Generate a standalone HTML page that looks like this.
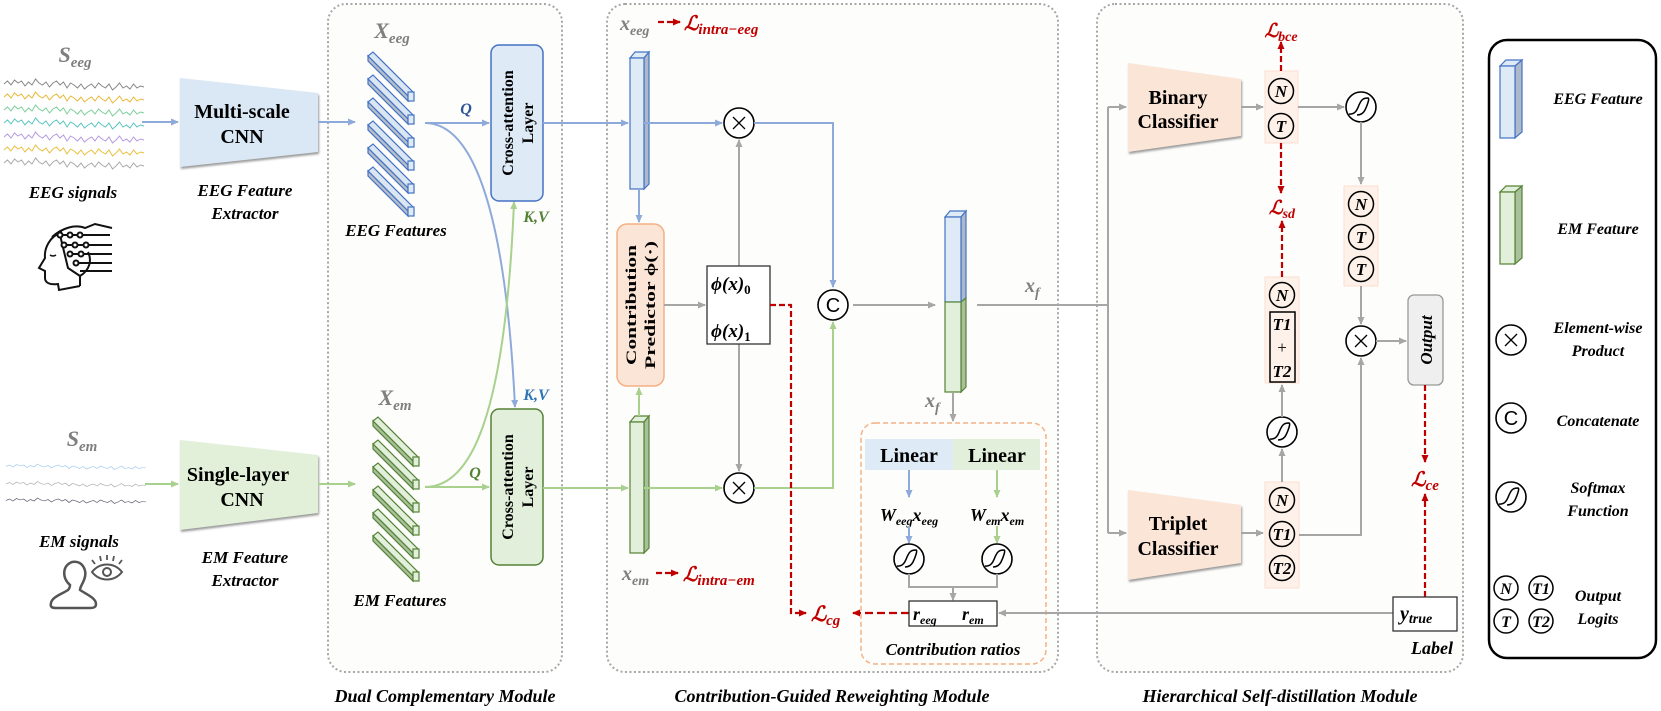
<!DOCTYPE html>
<html><head><meta charset="utf-8"><style>
html,body{margin:0;padding:0;background:#fff;}
svg{display:block;}
text{font-family:"Liberation Serif","DejaVu Serif",serif;}
.b{font-weight:bold;}
.bi{font-weight:bold;font-style:italic;}
.m{font-weight:bold;font-style:italic;fill:#7f7f7f;}
.r{font-weight:bold;font-style:italic;fill:#c00000;}
</style></head><body>
<svg width="1661" height="711" viewBox="0 0 1661 711" xmlns="http://www.w3.org/2000/svg">
<defs>
<marker id="ab" markerWidth="8" markerHeight="8" refX="7" refY="4" orient="auto" markerUnits="userSpaceOnUse"><path d="M0,0.5 L8,4 L0,7.5z" fill="#8eaadb"/></marker>
<marker id="ag" markerWidth="8" markerHeight="8" refX="7" refY="4" orient="auto" markerUnits="userSpaceOnUse"><path d="M0,0.5 L8,4 L0,7.5z" fill="#a9d18e"/></marker>
<marker id="ay" markerWidth="8" markerHeight="8" refX="7" refY="4" orient="auto" markerUnits="userSpaceOnUse"><path d="M0,0.5 L8,4 L0,7.5z" fill="#a6a6a6"/></marker>
<marker id="ar" markerWidth="8" markerHeight="8" refX="7" refY="4" orient="auto" markerUnits="userSpaceOnUse"><path d="M0,0.5 L8,4 L0,7.5z" fill="#c00000"/></marker>
<path id="wave" fill="none" stroke-width="1" d="M0,0 l3.5,-3 l3.5,4 l3.5,-5 l3.5,3 l3.5,-2 l3.5,5 l3.5,-4 l3.5,3 l3.5,-6 l3.5,4 l3.5,2 l3.5,-3 l3.5,5 l3.5,-4 l3.5,-2 l3.5,4 l3.5,-3 l3.5,6 l3.5,-5 l3.5,2 l3.5,3 l3.5,-4 l3.5,5 l3.5,-3 l3.5,-2 l3.5,4 l3.5,-5 l3.5,3 l3.5,2 l3.5,-4 l3.5,6 l3.5,-3 l3.5,-4 l3.5,5 l3.5,-2 l3.5,3 l3.5,-5 l3.5,4 l3.5,-2 l3.5,1"/>
<g id="bbar"><path d="M0,0 l5,-4 l40,40 l-5,4z" fill="#dbe6f3" stroke="#4472c4" stroke-width="1.2"/><path d="M0,0 l40,40 l0,5 l-40,-40z" fill="#b7bfc9" stroke="#4472c4" stroke-width="1.2"/><rect x="40" y="36" width="6" height="9" fill="#deebf7" stroke="#4472c4" stroke-width="1.2"/></g>
<g id="gbar"><path d="M0,0 l5,-4 l40,40 l-5,4z" fill="#e2efda" stroke="#548235" stroke-width="1.2"/><path d="M0,0 l40,40 l0,5 l-40,-40z" fill="#a9c19a" stroke="#548235" stroke-width="1.2"/><rect x="40" y="36" width="6" height="9" fill="#e2efda" stroke="#548235" stroke-width="1.2"/></g>
<g id="mul"><circle r="15" fill="#fff" stroke="#000" stroke-width="1.6"/><path d="M-6,-6 L6,6 M6,-6 L-6,6" stroke="#000" stroke-width="1.3"/></g>
<g id="cat"><circle r="15" fill="#fff" stroke="#000" stroke-width="1.6"/><text x="0" y="7" text-anchor="middle" font-size="20" style="font-family:'Liberation Sans',sans-serif">C</text></g>
<g id="sm"><circle r="15" fill="#fff" stroke="#000" stroke-width="1.6"/><path d="M-12,7 C-4,8 -3,-1 -1,-4 C1,-8 3,-9 7,-9 C9,-9 6,-1 4,3 C2,7 -1,8 -4,8" fill="none" stroke="#000" stroke-width="1.5"/></g>
</defs>

<!-- module boxes -->
<rect x="328" y="4" width="234" height="668" rx="18" fill="#fdfdfc" stroke="#a6a6a6" stroke-width="2" stroke-dasharray="2,2.5"/>
<rect x="607" y="4" width="451" height="668" rx="18" fill="#fdfdfc" stroke="#a6a6a6" stroke-width="2" stroke-dasharray="2,2.5"/>
<rect x="1097" y="4" width="366" height="668" rx="18" fill="#fdfdfc" stroke="#a6a6a6" stroke-width="2" stroke-dasharray="2,2.5"/>
<rect x="1489" y="40" width="167" height="618" rx="18" fill="#fff" stroke="#000" stroke-width="2.5"/>

<text x="445" y="702" text-anchor="middle" font-size="18" class="bi">Dual Complementary Module</text>
<text x="832" y="702" text-anchor="middle" font-size="18" class="bi">Contribution-Guided Reweighting Module</text>
<text x="1280" y="702" text-anchor="middle" font-size="18" class="bi">Hierarchical Self-distillation Module</text>

<!-- ===== left: EEG ===== -->
<text x="75" y="62" text-anchor="middle" font-size="22" class="m">S<tspan font-size="15" dy="5">eeg</tspan></text>
<use href="#wave" x="4" y="84" stroke="#888"/>
<use href="#wave" x="4" y="97" stroke="#e8b838"/>
<use href="#wave" x="4" y="110" stroke="#7ccf9a"/>
<use href="#wave" x="4" y="123" stroke="#5bc4c0"/>
<use href="#wave" x="4" y="137" stroke="#b59be0"/>
<use href="#wave" x="4" y="150" stroke="#e8c040"/>
<use href="#wave" x="4" y="163" stroke="#aaa"/>
<line x1="142" y1="122" x2="178" y2="122" stroke="#8eaadb" stroke-width="2" marker-end="url(#ab)"/>
<polygon points="180,78 318,93 318,152 180,167" fill="#dae8f5" style="filter:drop-shadow(1px 2px 1px #999)"/>
<text x="242" y="118" text-anchor="middle" font-size="20" class="b">Multi-scale</text>
<text x="242" y="143" text-anchor="middle" font-size="20" class="b">CNN</text>
<text x="245" y="196" text-anchor="middle" font-size="17" class="bi">EEG Feature</text>
<text x="245" y="219" text-anchor="middle" font-size="17" class="bi">Extractor</text>
<text x="73" y="198" text-anchor="middle" font-size="17" class="bi">EEG signals</text>
<!-- head icon -->
<g fill="none" stroke="#111" stroke-width="2">
<path d="M62,232 C50,236 44,248 45,258 L39,268 L45,271 L45,278 C45,283 50,285 58,284 L59,290 L80,286 M80,286 L80,276 C90,270 92,260 88,252"/>
<path d="M52,237 C62,228 75,224 85,228 L95,224 L112,228"/>
<path d="M60,235 L68,268 L80,276" />
<path d="M60,235 L110,235 M64,245 L112,245 M70,254 L112,254 M74,263 L112,263 M80,271 L112,271"/>
<circle cx="60" cy="235" r="2.5" fill="#fff"/><circle cx="70" cy="235" r="2.5" fill="#fff"/><circle cx="80" cy="235" r="2.5" fill="#fff"/>
<circle cx="64" cy="245" r="2.5" fill="#fff"/><circle cx="75" cy="245" r="2.5" fill="#fff"/><circle cx="86" cy="245" r="2.5" fill="#fff"/>
<circle cx="70" cy="254" r="2.5" fill="#fff"/><circle cx="81" cy="254" r="2.5" fill="#fff"/>
<circle cx="76" cy="263" r="2.5" fill="#fff"/>
<path d="M50,255 Q53,257 56,255" stroke-width="1.5"/>
</g>

<!-- ===== left: EM ===== -->
<text x="82" y="446" text-anchor="middle" font-size="22" class="m">S<tspan font-size="15" dy="5">em</tspan></text>
<use href="#wave" x="6" y="467" stroke="#9dc8f0" transform="translate(0,233) scale(1,0.5)"/>
<use href="#wave" x="6" y="484" stroke="#aaa" transform="translate(0,242) scale(1,0.5)"/>
<use href="#wave" x="6" y="501" stroke="#556" transform="translate(0,250) scale(1,0.5)"/>
<line x1="145" y1="484" x2="178" y2="484" stroke="#a9d18e" stroke-width="2" marker-end="url(#ag)"/>
<polygon points="180,440 318,455 318,513 180,530" fill="#e2f0d9" style="filter:drop-shadow(1px 2px 1px #999)"/>
<text x="238" y="481" text-anchor="middle" font-size="20" class="b">Single-layer</text>
<text x="242" y="506" text-anchor="middle" font-size="20" class="b">CNN</text>
<text x="245" y="563" text-anchor="middle" font-size="17" class="bi">EM Feature</text>
<text x="245" y="586" text-anchor="middle" font-size="17" class="bi">Extractor</text>
<text x="79" y="547" text-anchor="middle" font-size="17" class="bi">EM signals</text>
<g fill="none" stroke="#555" stroke-width="2.5">
<path d="M70,585 C62,578 62,566 72,562 C82,560 88,570 84,580 C82,585 80,587 80,590 C86,594 96,598 96,604 C96,607 94,608 90,608 L56,608 C52,608 50,607 51,603 C52,597 62,594 68,590 C70,588 70,586 70,585z"/>
<path d="M92,572 C100,562 114,562 122,572 C114,582 100,582 92,572z" stroke-width="2"/>
<circle cx="107" cy="572" r="4" stroke-width="2"/>
<path d="M95,564 l-3,-4 M101,561 l-1,-5 M107,560 l0,-5 M113,561 l1,-5 M119,564 l3,-4" stroke-width="1.8"/>
</g>

<!-- ===== Dual complementary ===== -->
<text x="392" y="38" text-anchor="middle" font-size="22" class="m">X<tspan font-size="15" dy="5">eeg</tspan></text>
<use href="#bbar" x="368" y="56"/><use href="#bbar" x="368" y="79"/><use href="#bbar" x="368" y="102"/>
<use href="#bbar" x="368" y="125"/><use href="#bbar" x="368" y="148"/><use href="#bbar" x="368" y="171"/>
<text x="396" y="236" text-anchor="middle" font-size="17" class="bi">EEG Features</text>
<line x1="318" y1="122" x2="355" y2="122" stroke="#8eaadb" stroke-width="2" marker-end="url(#ab)"/>

<text x="395" y="405" text-anchor="middle" font-size="22" class="m">X<tspan font-size="15" dy="5">em</tspan></text>
<use href="#gbar" x="373" y="421"/><use href="#gbar" x="373" y="444"/><use href="#gbar" x="373" y="467"/>
<use href="#gbar" x="373" y="490"/><use href="#gbar" x="373" y="513"/><use href="#gbar" x="373" y="536"/>
<text x="400" y="606" text-anchor="middle" font-size="17" class="bi">EM Features</text>
<line x1="318" y1="484" x2="355" y2="484" stroke="#a9d18e" stroke-width="2" marker-end="url(#ag)"/>

<!-- Q arrows and curves -->
<line x1="425" y1="123" x2="489" y2="123" stroke="#8eaadb" stroke-width="2" marker-end="url(#ab)"/>
<text x="466" y="114" text-anchor="middle" font-size="16" class="bi" fill="#2f5597">Q</text>
<path d="M425,123 C470,123 505,200 515,407" fill="none" stroke="#8eaadb" stroke-width="2" marker-end="url(#ab)"/>
<line x1="425" y1="487" x2="489" y2="487" stroke="#a9d18e" stroke-width="2" marker-end="url(#ag)"/>
<text x="475" y="478" text-anchor="middle" font-size="16" class="bi" fill="#548235">Q</text>
<path d="M425,487 C470,487 505,420 514,202" fill="none" stroke="#a9d18e" stroke-width="2" marker-end="url(#ag)"/>
<text x="536" y="222" text-anchor="middle" font-size="16" class="bi" fill="#548235">K,V</text>
<text x="536" y="400" text-anchor="middle" font-size="16" class="bi" fill="#2e75b6">K,V</text>

<rect x="491" y="45" width="52" height="156" rx="8" fill="#deebf7" stroke="#4472c4" stroke-width="1.5"/>
<g transform="translate(517,123) rotate(-90)"><text x="0" y="-4" text-anchor="middle" font-size="16" class="b">Cross-attention</text><text x="0" y="16" text-anchor="middle" font-size="16" class="b">Layer</text></g>
<rect x="491" y="409" width="52" height="156" rx="8" fill="#e2efda" stroke="#548235" stroke-width="1.5"/>
<g transform="translate(517,487) rotate(-90)"><text x="0" y="-4" text-anchor="middle" font-size="16" class="b">Cross-attention</text><text x="0" y="16" text-anchor="middle" font-size="16" class="b">Layer</text></g>

<!-- ===== Contribution-guided ===== -->
<text x="620" y="30" font-size="20" class="m">x<tspan font-size="14" dy="5">eeg</tspan></text>
<line x1="658" y1="22" x2="680" y2="22" stroke="#c00000" stroke-width="2.2" stroke-dasharray="6,3" marker-end="url(#ar)"/>
<text x="684" y="30" font-size="20" class="r">ℒ<tspan font-size="15" dy="4">intra−eeg</tspan></text>

<line x1="543" y1="123" x2="628" y2="123" stroke="#8eaadb" stroke-width="2" marker-end="url(#ab)"/>
<line x1="543" y1="488" x2="628" y2="488" stroke="#a9d18e" stroke-width="2" marker-end="url(#ag)"/>
<!-- EEG bar -->
<polygon points="630,58 635,52 649,52 644,58" fill="#deebf7" stroke="#4472c4" stroke-width="1.2"/>
<polygon points="644,58 649,52 649,184 644,189" fill="#adb9ca" stroke="#4472c4" stroke-width="1.2"/>
<rect x="630" y="58" width="14" height="131" fill="#deebf7" stroke="#4472c4" stroke-width="1.2"/>
<!-- EM bar -->
<polygon points="630,422 635,416 649,416 644,422" fill="#e2efda" stroke="#548235" stroke-width="1.2"/>
<polygon points="644,422 649,416 649,548 644,553" fill="#a9c19a" stroke="#548235" stroke-width="1.2"/>
<rect x="630" y="422" width="14" height="131" fill="#e2efda" stroke="#548235" stroke-width="1.2"/>
<text x="622" y="580" font-size="20" class="m">x<tspan font-size="14" dy="5">em</tspan></text>
<line x1="656" y1="573" x2="678" y2="573" stroke="#c00000" stroke-width="2.2" stroke-dasharray="6,3" marker-end="url(#ar)"/>
<text x="683" y="581" font-size="20" class="r">ℒ<tspan font-size="15" dy="4">intra−em</tspan></text>

<line x1="639" y1="189" x2="639" y2="222" stroke="#8eaadb" stroke-width="2" marker-end="url(#ab)"/>
<line x1="639" y1="416" x2="639" y2="388" stroke="#a9d18e" stroke-width="2" marker-end="url(#ag)"/>
<rect x="617" y="224" width="47" height="162" rx="10" fill="#fbe5d6" stroke="#f4b183" stroke-width="1.5"/>
<g transform="translate(640,305) rotate(-90)"><text x="0" y="-4" text-anchor="middle" font-size="15" class="b" textLength="120" lengthAdjust="spacingAndGlyphs">Contribution</text><text x="0" y="15" text-anchor="middle" font-size="15" class="b" textLength="128" lengthAdjust="spacingAndGlyphs">Predictor ϕ(·)</text></g>

<line x1="644" y1="123" x2="722" y2="123" stroke="#8eaadb" stroke-width="2" marker-end="url(#ab)"/>
<line x1="644" y1="488" x2="722" y2="488" stroke="#a9d18e" stroke-width="2" marker-end="url(#ag)"/>
<line x1="664" y1="305" x2="705" y2="305" stroke="#a6a6a6" stroke-width="2" marker-end="url(#ay)"/>
<line x1="739" y1="266" x2="739" y2="140" stroke="#a6a6a6" stroke-width="2" marker-end="url(#ay)"/>
<line x1="739" y1="344" x2="739" y2="471" stroke="#a6a6a6" stroke-width="2" marker-end="url(#ay)"/>
<rect x="707" y="266" width="63" height="78" fill="#fff" stroke="#333" stroke-width="1.3"/>
<text x="711" y="290" font-size="19" class="bi">ϕ(x)<tspan font-size="13" dy="4" font-style="normal">0</tspan></text>
<text x="711" y="337" font-size="19" class="bi">ϕ(x)<tspan font-size="13" dy="4" font-style="normal">1</tspan></text>
<use href="#mul" x="739" y="123"/>
<use href="#mul" x="739" y="488"/>
<polyline points="754,123 833,123 833,287" fill="none" stroke="#8eaadb" stroke-width="2" marker-end="url(#ab)"/>
<polyline points="754,488 833,488 833,322" fill="none" stroke="#a9d18e" stroke-width="2" marker-end="url(#ag)"/>
<use href="#cat" x="833" y="305"/>
<line x1="853" y1="305" x2="935" y2="305" stroke="#a6a6a6" stroke-width="2" marker-end="url(#ay)"/>
<polyline points="770,305 791,305 791,613 806,613" fill="none" stroke="#c00000" stroke-width="2.2" stroke-dasharray="6,3" marker-end="url(#ar)"/>
<text x="811" y="621" font-size="21" class="r">ℒ<tspan font-size="15" dy="4">cg</tspan></text>

<!-- fused bar -->
<polygon points="945,217 950,211 966,211 961,217" fill="#deebf7" stroke="#4472c4" stroke-width="1.2"/>
<polygon points="961,217 966,211 966,298 961,302" fill="#adb9ca" stroke="#4472c4" stroke-width="1.2"/>
<polygon points="961,302 966,298 966,387 961,392" fill="#a9c19a" stroke="#548235" stroke-width="1.2"/>
<rect x="945" y="217" width="16" height="85" fill="#deebf7" stroke="#4472c4" stroke-width="1.2"/>
<rect x="945" y="302" width="16" height="90" fill="#e2efda" stroke="#548235" stroke-width="1.2"/>
<text x="1025" y="292" font-size="20" class="m">x<tspan font-size="14" dy="5">f</tspan></text>
<text x="925" y="407" font-size="20" class="m">x<tspan font-size="14" dy="5">f</tspan></text>
<line x1="953" y1="392" x2="953" y2="421" stroke="#a6a6a6" stroke-width="2" marker-end="url(#ay)"/>

<!-- contribution ratios box -->
<rect x="861" y="423" width="185" height="241" rx="14" fill="none" stroke="#f4b183" stroke-width="1.5" stroke-dasharray="5,3"/>
<rect x="865" y="439" width="88" height="31" fill="#deebf7"/>
<rect x="953" y="439" width="87" height="31" fill="#e2efda"/>
<text x="909" y="462" text-anchor="middle" font-size="20" class="b">Linear</text>
<text x="997" y="462" text-anchor="middle" font-size="20" class="b">Linear</text>
<line x1="909" y1="470" x2="909" y2="497" stroke="#8eaadb" stroke-width="2" marker-end="url(#ab)"/>
<line x1="997" y1="470" x2="997" y2="497" stroke="#a9d18e" stroke-width="2" marker-end="url(#ag)"/>
<text x="909" y="521" text-anchor="middle" font-size="18" class="bi">W<tspan font-size="12" dy="4">eeg</tspan><tspan dy="-4">x</tspan><tspan font-size="12" dy="4">eeg</tspan></text>
<text x="997" y="521" text-anchor="middle" font-size="18" class="bi">W<tspan font-size="12" dy="4">em</tspan><tspan dy="-4">x</tspan><tspan font-size="12" dy="4">em</tspan></text>
<line x1="909" y1="526" x2="909" y2="543" stroke="#8eaadb" stroke-width="2" marker-end="url(#ab)"/>
<line x1="997" y1="526" x2="997" y2="543" stroke="#a9d18e" stroke-width="2" marker-end="url(#ag)"/>
<use href="#sm" x="909" y="559"/>
<use href="#sm" x="997" y="559"/>
<polyline points="909,574 909,587 997,587 997,574" fill="none" stroke="#a6a6a6" stroke-width="2"/>
<line x1="953" y1="587" x2="953" y2="600" stroke="#a6a6a6" stroke-width="2" marker-end="url(#ay)"/>
<line x1="1393" y1="613" x2="999" y2="613" stroke="#a6a6a6" stroke-width="2" marker-end="url(#ay)"/>
<line x1="909" y1="613" x2="853" y2="613" stroke="#c00000" stroke-width="2.2" stroke-dasharray="8,4" marker-end="url(#ar)"/>
<rect x="909" y="601" width="88" height="25" fill="#fff" stroke="#222" stroke-width="1.2"/>
<text x="913" y="620" font-size="18" class="bi">r<tspan font-size="12" dy="4">eeg</tspan></text>
<text x="962" y="620" font-size="18" class="bi">r<tspan font-size="12" dy="4">em</tspan></text>
<text x="953" y="655" text-anchor="middle" font-size="17" class="bi">Contribution ratios</text>

<!-- ===== Hierarchical ===== -->
<line x1="977" y1="305" x2="1108" y2="305" stroke="#a6a6a6" stroke-width="2"/>
<line x1="1108" y1="107" x2="1108" y2="533" stroke="#a6a6a6" stroke-width="2"/>
<line x1="1108" y1="107" x2="1126" y2="107" stroke="#a6a6a6" stroke-width="2" marker-end="url(#ay)"/>
<line x1="1108" y1="533" x2="1126" y2="533" stroke="#a6a6a6" stroke-width="2" marker-end="url(#ay)"/>
<polygon points="1128,63 1241,79 1241,136 1128,152" fill="#fbe5d6" style="filter:drop-shadow(1px 2px 1px #999)"/>
<text x="1178" y="104" text-anchor="middle" font-size="20" class="b">Binary</text>
<text x="1178" y="128" text-anchor="middle" font-size="20" class="b">Classifier</text>
<polygon points="1128,490 1241,505 1241,563 1128,580" fill="#fbe5d6" style="filter:drop-shadow(1px 2px 1px #999)"/>
<text x="1178" y="530" text-anchor="middle" font-size="20" class="b">Triplet</text>
<text x="1178" y="555" text-anchor="middle" font-size="20" class="b">Classifier</text>
<line x1="1241" y1="107" x2="1263" y2="107" stroke="#a6a6a6" stroke-width="2" marker-end="url(#ay)"/>
<line x1="1241" y1="533" x2="1263" y2="533" stroke="#a6a6a6" stroke-width="2" marker-end="url(#ay)"/>

<g font-size="17" class="bi" text-anchor="middle">
<rect x="1265" y="71" width="33" height="72" fill="#fdf1ea" stroke="#fbe0d0"/>
<circle cx="1281" cy="91" r="12.5" fill="none" stroke="#000" stroke-width="1.5"/><text x="1281" y="97">N</text>
<circle cx="1281" cy="126" r="12.5" fill="none" stroke="#000" stroke-width="1.5"/><text x="1281" y="132">T</text>

<rect x="1265" y="277" width="34" height="106" fill="#fdf1ea" stroke="#fbe0d0"/>
<circle cx="1282" cy="295" r="12.5" fill="none" stroke="#000" stroke-width="1.5"/><text x="1282" y="301">N</text>
<rect x="1270" y="312" width="25" height="70" fill="none" stroke="#000" stroke-width="1.5"/>
<text x="1282" y="330">T1</text><text x="1282" y="353" font-style="normal" font-weight="normal">+</text><text x="1282" y="377">T2</text>

<rect x="1265" y="482" width="34" height="106" fill="#fdf1ea" stroke="#fbe0d0"/>
<circle cx="1282" cy="500" r="12.5" fill="none" stroke="#000" stroke-width="1.5"/><text x="1282" y="506">N</text>
<circle cx="1282" cy="534" r="12.5" fill="none" stroke="#000" stroke-width="1.5"/><text x="1282" y="540">T1</text>
<circle cx="1282" cy="568" r="12.5" fill="none" stroke="#000" stroke-width="1.5"/><text x="1282" y="574">T2</text>

<rect x="1344" y="186" width="34" height="100" fill="#fdf1ea" stroke="#fbe0d0"/>
<circle cx="1361" cy="204" r="12.5" fill="none" stroke="#000" stroke-width="1.5"/><text x="1361" y="210">N</text>
<circle cx="1361" cy="237" r="12.5" fill="none" stroke="#000" stroke-width="1.5"/><text x="1361" y="243">T</text>
<circle cx="1361" cy="269" r="12.5" fill="none" stroke="#000" stroke-width="1.5"/><text x="1361" y="275">T</text>
</g>

<line x1="1281" y1="71" x2="1281" y2="42" stroke="#c00000" stroke-width="2.2" stroke-dasharray="6,3" marker-end="url(#ar)"/>
<text x="1281" y="37" text-anchor="middle" font-size="19" class="r">ℒ<tspan font-size="14" dy="4">bce</tspan></text>
<line x1="1281" y1="143" x2="1281" y2="193" stroke="#c00000" stroke-width="2.2" stroke-dasharray="6,3" marker-end="url(#ar)"/>
<text x="1282" y="214" text-anchor="middle" font-size="19" class="r">ℒ<tspan font-size="14" dy="4">sd</tspan></text>
<line x1="1282" y1="277" x2="1282" y2="221" stroke="#c00000" stroke-width="2.2" stroke-dasharray="6,3" marker-end="url(#ar)"/>

<line x1="1298" y1="107" x2="1344" y2="107" stroke="#a6a6a6" stroke-width="2" marker-end="url(#ay)"/>
<use href="#sm" x="1361" y="107"/>
<line x1="1361" y1="122" x2="1361" y2="184" stroke="#a6a6a6" stroke-width="2" marker-end="url(#ay)"/>
<line x1="1361" y1="286" x2="1361" y2="324" stroke="#a6a6a6" stroke-width="2" marker-end="url(#ay)"/>
<use href="#mul" x="1361" y="341"/>
<polyline points="1299,535 1361,535 1361,358" fill="none" stroke="#a6a6a6" stroke-width="2" marker-end="url(#ay)"/>
<line x1="1282" y1="482" x2="1282" y2="449" stroke="#a6a6a6" stroke-width="2" marker-end="url(#ay)"/>
<use href="#sm" x="1282" y="432"/>
<line x1="1282" y1="417" x2="1282" y2="385" stroke="#a6a6a6" stroke-width="2" marker-end="url(#ay)"/>
<line x1="1376" y1="341" x2="1406" y2="341" stroke="#a6a6a6" stroke-width="2" marker-end="url(#ay)"/>
<rect x="1408" y="295" width="35" height="90" rx="6" fill="#efefef" stroke="#999" stroke-width="1.3"/>
<g transform="translate(1426,340) rotate(-90)"><text x="0" y="6" text-anchor="middle" font-size="17" class="bi">Output</text></g>
<line x1="1425" y1="385" x2="1425" y2="462" stroke="#c00000" stroke-width="2.2" stroke-dasharray="6,3" marker-end="url(#ar)"/>
<text x="1425" y="486" text-anchor="middle" font-size="20" class="r">ℒ<tspan font-size="15" dy="4">ce</tspan></text>
<line x1="1425" y1="597" x2="1425" y2="494" stroke="#c00000" stroke-width="2.2" stroke-dasharray="6,3" marker-end="url(#ar)"/>
<rect x="1393" y="597" width="64" height="34" fill="#fff" stroke="#333" stroke-width="1.3"/>
<text x="1400" y="620" font-size="20" class="bi">y<tspan font-size="14" dy="3">true</tspan></text>
<text x="1432" y="654" text-anchor="middle" font-size="18" class="bi">Label</text>

<!-- ===== legend ===== -->
<polygon points="1500,66 1506,60 1522,60 1515,66" fill="#deebf7" stroke="#4472c4" stroke-width="1.2"/>
<polygon points="1515,66 1522,60 1522,132 1515,138" fill="#adb9ca" stroke="#4472c4" stroke-width="1.2"/>
<rect x="1500" y="66" width="15" height="72" fill="#deebf7" stroke="#4472c4" stroke-width="1.2"/>
<text x="1598" y="104" text-anchor="middle" font-size="16" class="bi">EEG Feature</text>
<polygon points="1500,192 1506,186 1522,186 1515,192" fill="#e2efda" stroke="#548235" stroke-width="1.2"/>
<polygon points="1515,192 1522,186 1522,258 1515,264" fill="#a9c19a" stroke="#548235" stroke-width="1.2"/>
<rect x="1500" y="192" width="15" height="72" fill="#e2efda" stroke="#548235" stroke-width="1.2"/>
<text x="1598" y="234" text-anchor="middle" font-size="16" class="bi">EM Feature</text>
<use href="#mul" x="1511" y="340"/>
<text x="1598" y="333" text-anchor="middle" font-size="16" class="bi">Element-wise</text>
<text x="1598" y="356" text-anchor="middle" font-size="16" class="bi">Product</text>
<use href="#cat" x="1511" y="418"/>
<text x="1598" y="426" text-anchor="middle" font-size="16" class="bi">Concatenate</text>
<use href="#sm" x="1511" y="497"/>
<text x="1598" y="493" text-anchor="middle" font-size="16" class="bi">Softmax</text>
<text x="1598" y="516" text-anchor="middle" font-size="16" class="bi">Function</text>
<g font-size="16" class="bi" text-anchor="middle">
<circle cx="1506" cy="588" r="12" fill="none" stroke="#000" stroke-width="1.5"/><text x="1506" y="594">N</text>
<circle cx="1541" cy="588" r="12" fill="none" stroke="#000" stroke-width="1.5"/><text x="1541" y="594">T1</text>
<circle cx="1506" cy="621" r="12" fill="none" stroke="#000" stroke-width="1.5"/><text x="1506" y="627">T</text>
<circle cx="1541" cy="621" r="12" fill="none" stroke="#000" stroke-width="1.5"/><text x="1541" y="627">T2</text>
<text x="1598" y="601">Output</text>
<text x="1598" y="624">Logits</text>
</g>
</svg>
</body></html>
